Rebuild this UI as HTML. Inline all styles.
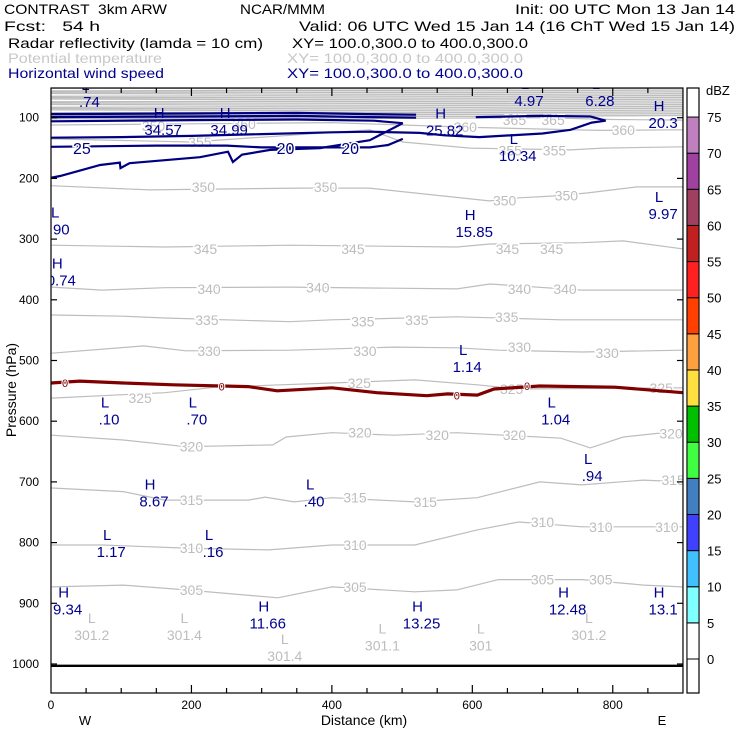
<!DOCTYPE html>
<html><head><meta charset="utf-8"><style>
html,body{margin:0;padding:0;background:#fff;}
svg{display:block;font-family:"Liberation Sans",sans-serif;}
svg text{white-space:pre;}
</style></head><body>
<svg id="chart" width="740" height="740" viewBox="0 0 740 740" xmlns="http://www.w3.org/2000/svg">
<defs><clipPath id="plotclip"><rect x="51" y="88" width="632" height="605"/></clipPath></defs>
<rect x="0" y="0" width="740" height="740" fill="#fff"/>
<g font-size="14">
<text x="4" y="14" textLength="163" lengthAdjust="spacingAndGlyphs" xml:space="preserve">CONTRAST  3km ARW</text>
<text x="240" y="14" textLength="85" lengthAdjust="spacingAndGlyphs">NCAR/MMM</text>
<text x="515" y="14" textLength="220" lengthAdjust="spacingAndGlyphs">Init: 00 UTC Mon 13 Jan 14</text>
<text x="4" y="31" textLength="96" lengthAdjust="spacingAndGlyphs" xml:space="preserve">Fcst:   54 h</text>
<text x="299" y="31" textLength="436" lengthAdjust="spacingAndGlyphs">Valid: 06 UTC Wed 15 Jan 14 (16 ChT Wed 15 Jan 14)</text>
<text x="8" y="48" textLength="255" lengthAdjust="spacingAndGlyphs">Radar reflectivity (lamda = 10 cm)</text>
<text x="292" y="48" textLength="236" lengthAdjust="spacingAndGlyphs">XY= 100.0,300.0 to 400.0,300.0</text>
<text x="8" y="63" fill="#c8c8c8" textLength="154" lengthAdjust="spacingAndGlyphs">Potential temperature</text>
<text x="287" y="63" fill="#c8c8c8" textLength="236" lengthAdjust="spacingAndGlyphs">XY= 100.0,300.0 to 400.0,300.0</text>
<text x="8" y="78" fill="#000090" textLength="156" lengthAdjust="spacingAndGlyphs">Horizontal wind speed</text>
<text x="287" y="78" fill="#000090" textLength="236" lengthAdjust="spacingAndGlyphs">XY= 100.0,300.0 to 400.0,300.0</text>
</g>
<g id="plot" clip-path="url(#plotclip)"></g>
<g id="axes"></g>
<g id="cbar"></g>
</svg>
<script>
// axis: km -> px, hPa -> px
const X0=51, KMPX=0.7022, PY0=57, HPPX=0.607;
function xs(km){return X0+km*KMPX;}
function ys(p){return PY0+p*HPPX;}

const yTicks=[100,200,300,400,500,600,700,800,900,1000];
const xTickLabels=[0,200,400,600,800];
const dbzLevels=[0,5,10,15,20,25,30,35,40,45,50,55,60,65,70,75];
const dbzColors=['#ffffff','#80ffff','#40c0ff','#4040ff','#4080c0','#40ff40','#00c000','#ffe040','#ffa040','#ff4000','#ff2020','#c02020','#a04060','#a040a0','#c080c0'];

// potential temperature contours [km, hPa]
const theta305=[[1,873],[103,870],[192,878],[323,891],[400,873],[518,881],[578,878],[637,861],[756,861],[844,870],[899,873]];
const theta310=[[1,804],[73,804],[192,809],[310,812],[400,804],[518,804],[607,779],[666,766],[756,774],[899,774]];
const theta315=[[1,710],[103,716],[162,730],[281,730],[305,725],[346,733],[400,726],[518,733],[607,726],[696,700],[756,705],[844,697],[899,700]];
const theta320=[[1,623],[103,631],[192,642],[316,639],[335,626],[400,619],[488,623],[578,619],[726,628],[768,644],[815,626],[880,618],[899,626]];
const theta325=[[1,562],[162,553],[234,544],[400,537],[518,532],[607,540],[666,547],[899,545]];
const theta330=[[1,488],[132,476],[192,484],[340,483],[488,478],[578,479],[637,483],[756,486],[899,483]];
const theta335=[[1,425],[103,427],[162,430],[340,436],[400,433],[578,428],[726,433],[899,433]];
const theta340=[[1,379],[73,384],[162,380],[340,379],[578,382],[625,374],[756,384],[899,384]];
const theta345=[[1,310],[162,313],[340,310],[578,313],[625,308],[756,306],[815,303],[899,316]];
const theta350=[[0,212],[141,219],[354,216],[453,216],[624,237],[667,232],[715,229],[763,224],[834,214],[900,214]];
const theta355=[[0,135],[200,140],[454,120],[501,140],[597,150],[740,153],[786,150],[900,148]];
const theta360=[[0,112],[200,110],[400,108],[600,116],[780,121],[900,120]];
const theta365=[[0,102],[300,100],[500,101],[700,100],[800,103],[900,104]];
const thetaUpper=[97,94,91,88,85,82,79,76,73,70,67,64,61,58,55,52];

// wind speed contours [km, hPa]
const windA=[[0,94],[200,93],[350,92],[450,94],[520,95]];
const windB=[[0,99],[200,98],[350,97],[450,99],[520,100]];
const windC=[[0,106],[200,104],[350,103],[460,105],[501,109]];
const windD=[[0,133],[100,132],[200,130],[300,127],[400,124],[454,123],[525,125],[560,129],[610,132],[700,126],[740,120],[770,108],[790,105]];
const windE=[[605,99],[700,97],[768,98],[790,105]];
const windF=[[0,148],[150,146],[250,146],[300,149],[454,149],[480,145],[501,135]];
const windG=[[0,199],[13,196],[70,178],[98,174],[99,183],[112,175],[212,165],[252,156],[259,173],[272,161],[312,153],[383,150],[454,137],[501,109]];

// freezing level (0 C) [km, hPa]
const freezing=[[0,537],[41,534],[103,537],[174,540],[281,543],[322,550],[400,545],[464,553],[535,558],[565,555],[607,557],[631,547],[696,542],[803,544],[900,553]];

// H/L extrema: [type, km, hPa, value]
const extremaWind=[['L',49,58,'.74'],['H',154,104,'34.57'],['H',248,104,'34.99'],['H',555,105,'25.82'],['L',675,56,'4.97'],['L',776,56,'6.28'],['H',866,92,'20.3'],['L',659,147,'10.34'],['L',6,268,'.90'],['H',597,272,'15.85'],['L',866,242,'9.97'],['H',9,352,'0.74'],['L',587,494,'1.14'],['L',77,581,'.10'],['L',202,581,'.70'],['L',713,581,'1.04'],['L',765,674,'.94'],['H',141,716,'8.67'],['L',369,716,'.40'],['L',80,799,'1.17'],['L',225,799,'.16'],['H',18,894,'9.34'],['H',303,917,'11.66'],['H',522,917,'13.25'],['H',730,894,'12.48'],['H',866,894,'13.1']];
const thetaLowKm=[58,190,333,472,612,766];
const thetaLowP=[942,942,977,960,960,942];
const thetaLowVal=['301.2','301.4','301.4','301.1','301','301.2'];

// contour labels [km, hPa, text]
const thetaLabels=[[146,114,'350'],[275,110,'360'],[212,140,'355'],[660,104,'365'],[715,104,'365'],[590,115,'360'],[815,120,'360'],[654,154,'355'],[717,154,'355'],[217,214,'350'],[391,214,'350'],[646,236,'350'],[734,228,'350'],[220,316,'345'],[430,316,'345'],[650,316,'345'],[713,316,'345'],[225,382,'340'],[380,380,'340'],[667,382,'340'],[732,382,'340'],[222,433,'335'],[444,436,'335'],[521,433,'335'],[649,428,'335'],[225,484,'330'],[447,484,'330'],[667,478,'330'],[792,488,'330'],[127,562,'325'],[439,537,'325'],[656,547,'325'],[869,545,'325'],[200,642,'320'],[440,619,'320'],[550,623,'320'],[660,623,'320'],[883,620,'320'],[200,730,'315'],[433,726,'315'],[533,733,'315'],[886,697,'315'],[200,809,'310'],[433,804,'310'],[700,766,'310'],[783,774,'310'],[877,774,'310'],[200,878,'305'],[433,873,'305'],[700,861,'305'],[783,861,'305']];
const windLabels=[[44,150,'25'],[334,150,'20'],[426,150,'20']];
const freezingLabels=[[20,537,'0'],[243,543,'0'],[578,558,'0'],[678,542,'0']];

const NS='http://www.w3.org/2000/svg';
const plot=document.getElementById('plot');
const axes=document.getElementById('axes');
const cbar=document.getElementById('cbar');
function mk(tag,attrs,parent){const e=document.createElementNS(NS,tag);for(const k in attrs)e.setAttribute(k,attrs[k]);parent.appendChild(e);return e;}
function pathOf(pts){return pts.map((q,i)=>(i?'L':'M')+xs(q[0]).toFixed(1)+','+ys(q[1]).toFixed(1)).join(' ');}

// upper dense theta lines
thetaUpper.forEach((p,i)=>{
  const pts=[[0,p+((i%3)-1)*0.8],[300,p],[600,p+0.8],[900,p-0.6]];
  const e=mk('path',{d:pathOf(pts),fill:'none',stroke:'#bdbdbd','stroke-width':1.3},plot);
  
  
});
[theta305,theta310,theta315,theta320,theta325,theta330,theta335,theta340,theta345,theta350,theta355,theta360,theta365].forEach(a=>{
  const e=mk('path',{d:pathOf(a),fill:'none',stroke:'#bdbdbd','stroke-width':1.2},plot);
  
  
});
thetaLabels.forEach(t=>{
  const e=mk('text',{x:xs(t[0]),y:ys(t[1])+5,'font-size':14,fill:'#bdbdbd','text-anchor':'middle',stroke:'#fff','stroke-width':3,'paint-order':'stroke'},plot);
  e.textContent=t[2];
  
  
});
// wind contours
[windA,windB,windC,windD,windE,windF,windG].forEach(a=>{
  const e=mk('path',{d:pathOf(a),fill:'none',stroke:'#000080','stroke-width':2.2},plot);
  
  
});
windLabels.forEach(t=>{
  const e=mk('text',{x:xs(t[0]),y:ys(t[1])+6,'font-size':16,fill:'#000080','text-anchor':'middle',stroke:'#fff','stroke-width':3,'paint-order':'stroke'},plot);
  e.textContent=t[2];
  
  
});
// freezing line
{
  const e=mk('path',{d:pathOf(freezing),fill:'none',stroke:'#800000','stroke-width':3.2},plot);
  
  
}
freezingLabels.forEach(t=>{
  const e=mk('text',{x:xs(t[0]),y:ys(t[1])+4,'font-size':11,fill:'#800000','text-anchor':'middle',stroke:'#fff','stroke-width':2,'paint-order':'stroke'},plot);
  e.textContent=t[2];
  
  
});
// theta lows near surface
thetaLowKm.forEach((k,i)=>{
  const l=mk('text',{x:xs(k),y:ys(thetaLowP[i])-6,'font-size':14,fill:'#bdbdbd','text-anchor':'middle'},plot);
  l.textContent='L';
  
  
  const v=mk('text',{x:xs(k),y:ys(thetaLowP[i])+11,'font-size':14,fill:'#bdbdbd','text-anchor':'middle'},plot);
  v.textContent=thetaLowVal[i];
  
  
});
// wind extrema
extremaWind.forEach(t=>{
  const l=mk('text',{x:xs(t[1]),y:ys(t[2])-2,'font-size':15,fill:'#000090','text-anchor':'middle'},plot);
  l.textContent=t[0];
  
  
  const v=mk('text',{x:xs(t[1])+4,y:ys(t[2])+15,'font-size':15,fill:'#000090','text-anchor':'middle'},plot);
  v.textContent=t[3];
  
  
});
// surface line at 1000 hPa
{
  const e=mk('line',{x1:xs(0),x2:xs(900),y1:ys(1003),y2:ys(1003),stroke:'#000','stroke-width':2.4},plot);
  
  
}

// axes frame
const L=xs(0),R=xs(900),T=88,B=693;
{
  const e=mk('rect',{x:L,y:T,width:R-L,height:B-T,fill:'none',stroke:'#000','stroke-width':1.2},axes);
  
  
}
yTicks.forEach(p=>{
  const y=ys(p);
  const a=mk('line',{x1:L,x2:L+6,y1:y,y2:y,stroke:'#000','stroke-width':1.2},axes);
  
  
  const b=mk('line',{x1:R-6,x2:R,y1:y,y2:y,stroke:'#000','stroke-width':1.2},axes);
  
  
  const t=mk('text',{x:39,y:y+4,'font-size':12,'text-anchor':'end'},axes);
  t.textContent=p;
  
  
});
for(let k=50;k<900;k+=50){
  const len=(k%200===0)?8:5;
  const a=mk('line',{x1:xs(k),x2:xs(k),y1:B,y2:B-len,stroke:'#000','stroke-width':1.2},axes);
  
  
  const b=mk('line',{x1:xs(k),x2:xs(k),y1:T,y2:T+len,stroke:'#000','stroke-width':1.2},axes);
  
  
}
xTickLabels.forEach(k=>{
  const t=mk('text',{x:xs(k),y:709,'font-size':12,'text-anchor':'middle'},axes);
  t.textContent=k;
  
  
});
{
  const w=mk('text',{x:85,y:725,'font-size':13,'text-anchor':'middle'},axes);w.textContent='W';
  
  const e=mk('text',{x:662,y:725,'font-size':13,'text-anchor':'middle'},axes);e.textContent='E';
  
  const xt=mk('text',{x:364,y:725,'font-size':14,'text-anchor':'middle'},axes);xt.textContent='Distance (km)';
  
  const yt=mk('text',{x:0,y:0,'font-size':14,'text-anchor':'middle',transform:'translate(16,390) rotate(-90)'},axes);yt.textContent='Pressure (hPa)';
  
}

// colorbar
const CBX=687,CBW=12,CBT=88,CBB=693,CBZ=659,CBSTEP=36.13;
function cy(v){return CBZ-(v/5)*CBSTEP;}
{
  const e=mk('rect',{x:CBX,y:CBT,width:CBW,height:CBB-CBT,fill:'#fff',stroke:'#000','stroke-width':1.2},cbar);
  
  
}
dbzColors.forEach((c,i)=>{
  const v0=dbzLevels[i],v1=v0+5;
  const e=mk('rect',{x:CBX,y:cy(v1),width:CBW,height:cy(v0)-cy(v1),fill:c,stroke:'#000','stroke-width':1},cbar);
  
  
});
dbzLevels.forEach(v=>{
  const t=mk('text',{x:707,y:cy(v)+5,'font-size':13},cbar);
  t.textContent=v;
  
  
});
{
  const t=mk('text',{x:706,y:95,'font-size':13},cbar);t.textContent='dBZ';
  
}
</script>
</body></html>
